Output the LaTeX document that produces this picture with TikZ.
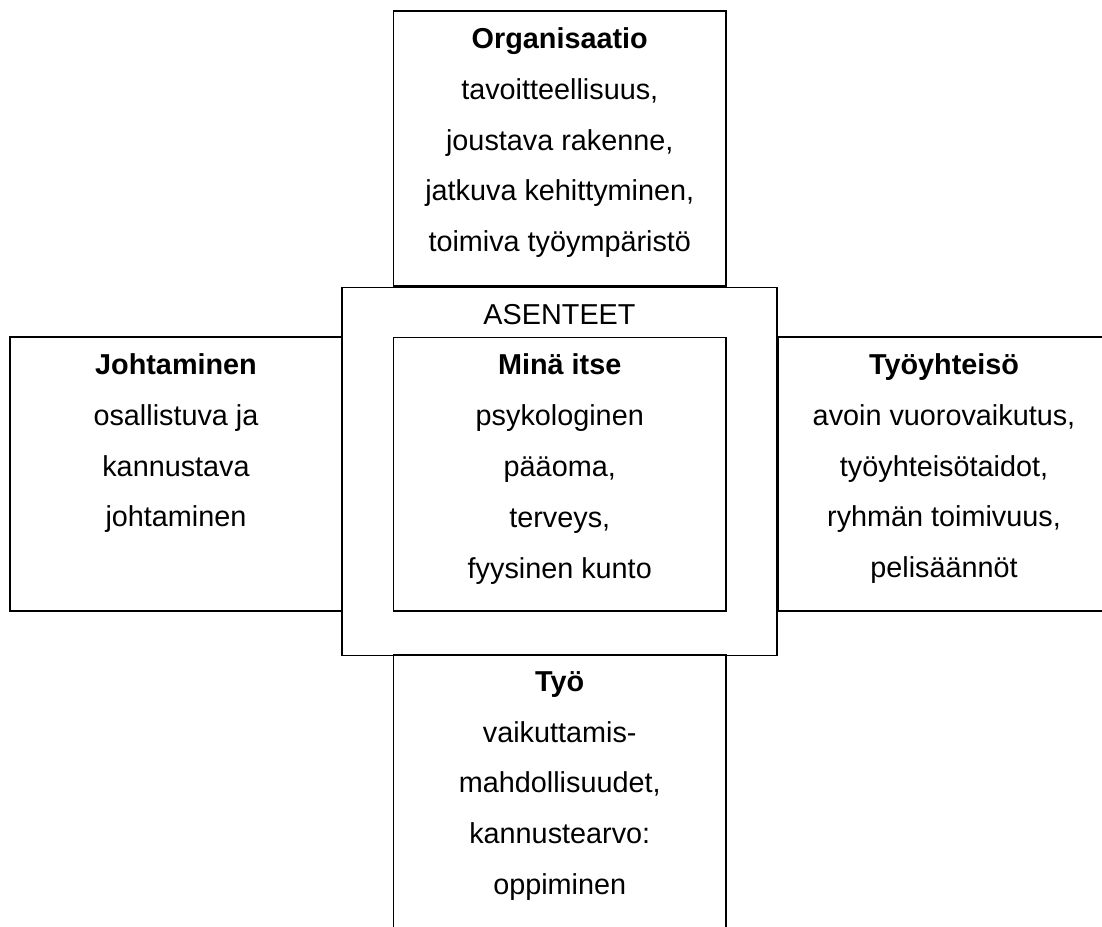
\documentclass[tikz,border=0pt]{standalone}
\usepackage{fontspec}
\setmainfont{Liberation Sans}
\usetikzlibrary{positioning}

\begin{document}
\begin{tikzpicture}[x=0.5pt, y=-0.5pt,
            box/.style={rectangle, draw=black, line width=0.8pt, inner sep=0pt},
            side/.style={box, minimum width=166pt, minimum height=137pt},
            txt/.style={anchor=north, align=center, inner sep=0pt, font=\fontsize{14.4pt}{25.4pt}\selectfont}
        ]
            \useasboundingbox (0,0) rectangle (1102,926);

            % Attitude frame
            \node[box, minimum width=217.5pt, minimum height=184pt] (asenteet) at (559.5,471.5) {};
            \node[txt] (asenteetlbl) at ([yshift=-8.5pt]asenteet.north) {ASENTEET};

            % Centre
            \node[box, minimum width=166.25pt, minimum height=136.75pt] (mina) at (559.75,474.25) {};
            \node[txt] (minalbl) at ([yshift=-8.5pt]mina.north) {\textbf{Minä itse}\\psykologinen\\pääoma,\\terveys,\\fyysinen kunto};

            % Top
            \node[box, minimum width=166.25pt, minimum height=137.5pt] (org) at (559.75,148.5) {};
            \node[txt] (orglbl) at ([yshift=-8.5pt]org.north) {\textbf{Organisaatio}\\tavoitteellisuus,\\joustava rakenne,\\jatkuva kehittyminen,\\toimiva työympäristö};

            % Left
            \node[side] (johto) at (176,474) {};
            \node[txt] (johtolbl) at ([yshift=-8.5pt]johto.north) {\textbf{Johtaminen}\\osallistuva ja\\kannustava\\johtaminen};

            % Right
            \node[side] (yhteiso) at (944,474) {};
            \node[txt] (yhteisolbl) at ([yshift=-8.5pt]yhteiso.north) {\textbf{Työyhteisö}\\avoin vuorovaikutus,\\työyhteisötaidot,\\ryhmän toimivuus,\\pelisäännöt};

            % Bottom
            \node[box, minimum width=166.25pt, minimum height=137.5pt] (tyo) at (559.75,930.5) [anchor=south] {};
            \node[txt] (tyolbl) at ([yshift=-8.5pt]tyo.north) {\textbf{Työ}\\vaikuttamis-\\mahdollisuudet,\\kannustearvo:\\oppiminen};
        \end{tikzpicture}
\end{document}
